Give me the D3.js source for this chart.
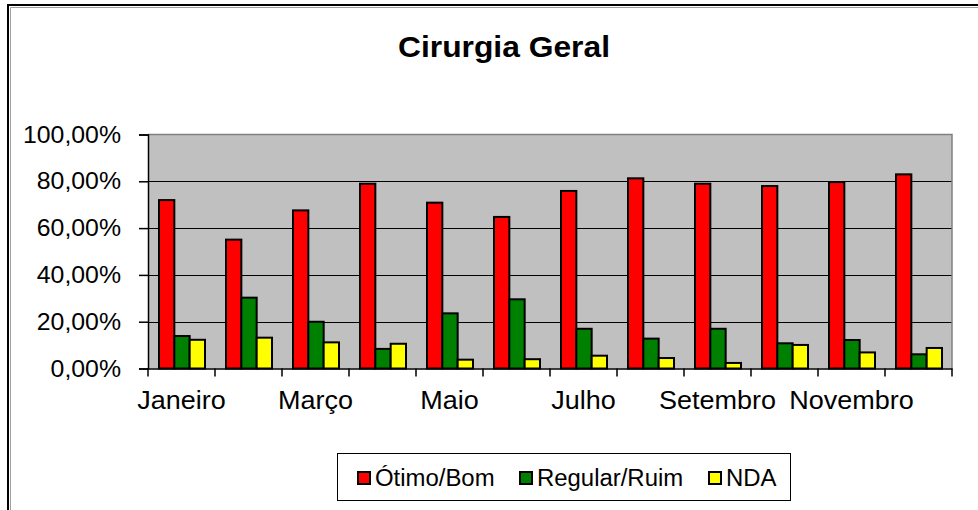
<!DOCTYPE html>
<html>
<head>
<meta charset="utf-8">
<script src="https://cdn.jsdelivr.net/npm/d3@7"></script>
<style>
  html, body { margin: 0; padding: 0; background: #fff; }
  svg { display: block; font-family: "Liberation Sans", Arial, sans-serif; }
</style>
</head>
<body>
<svg id="chart" width="978" height="510"></svg>
<script>
// data (percent)
var months = ["Janeiro", "Fevereiro", "Março", "Abril", "Maio", "Junho",
  "Julho", "Agosto", "Setembro", "Outubro", "Novembro", "Dezembro"];
var seriesNames = ["Ótimo/Bom", "Regular/Ruim", "NDA"];
var otimoBom = [72.4, 55.5, 68.0, 79.4, 71.3, 65.2, 76.3, 81.7, 79.4, 78.4, 80.1, 83.4];
var regularRuim = [14.3, 30.7, 20.4, 8.8, 24.0, 30.0, 17.4, 13.2, 17.4, 11.2, 12.6, 6.5];
var nda = [12.7, 13.6, 11.6, 11.0, 4.2, 4.4, 5.9, 4.9, 2.8, 10.5, 7.3, 9.2];
var yTicks = [0, 20, 40, 60, 80, 100];
var colors = ["#FF0000", "#008000", "#FFFF00"];

var values = [otimoBom, regularRuim, nda];

var svg = d3.select("#chart");

// outer chart border (clipped at right/bottom like the original)
svg.append("rect")
  .attr("x", 8).attr("y", 5)
  .attr("width", 1000).attr("height", 600)
  .attr("fill", "#fff")
  .attr("stroke", "#000").attr("stroke-width", 2);
svg.append("path")
  .attr("d", "M10.5,600V7.5H1000")
  .attr("fill", "none").attr("stroke", "#a0a0a0").attr("stroke-width", 1);

// title
svg.append("text")
  .attr("transform", "translate(504,57) scale(1.06,1)")
  .attr("text-anchor", "middle")
  .attr("font-size", 30)
  .attr("font-weight", "bold")
  .text("Cirurgia Geral");

var plot = {left: 148, right: 952, top: 134.5, bottom: 368.5};

var x = d3.scaleBand().domain(months).range([plot.left, plot.right]).padding(0);
var xs = d3.scaleBand().domain(seriesNames).range([10, 56]).padding(0);
var y = d3.scaleLinear().domain([0, 100]).range([plot.bottom, plot.top]);

// plot background
svg.append("rect")
  .attr("x", plot.left).attr("y", plot.top)
  .attr("width", plot.right - plot.left).attr("height", plot.bottom - plot.top)
  .attr("fill", "#C0C0C0");

// grid lines
svg.append("g").selectAll("line")
  .data(yTicks.filter(function(d){ return d > 0 && d < 100; }))
  .enter().append("line")
  .attr("x1", plot.left).attr("x2", plot.right)
  .attr("y1", function(d){ return Math.round(y(d)) + 0.5; })
  .attr("y2", function(d){ return Math.round(y(d)) + 0.5; })
  .attr("stroke", "#000").attr("stroke-width", 1);

// plot border top/right in grey
svg.append("path")
  .attr("d", "M" + plot.left + "," + plot.top + "H" + plot.right + "V" + plot.bottom)
  .attr("fill", "none").attr("stroke", "#808080").attr("stroke-width", 1.5);

// bars
var groups = svg.append("g").selectAll("g")
  .data(months)
  .enter().append("g")
  .attr("transform", function(d){ return "translate(" + x(d) + ",0)"; });

groups.selectAll("rect")
  .data(function(d, i){
    return seriesNames.map(function(s, j){ return {s: s, j: j, v: values[j][i]}; });
  })
  .enter().append("rect")
  .attr("x", function(d){ return xs(d.s) + 1; })
  .attr("width", xs.bandwidth())
  .attr("y", function(d){ return y(d.v) + 1; })
  .attr("height", function(d){ return y(0) - y(d.v) - 1; })
  .attr("fill", function(d){ return colors[d.j]; })
  .attr("stroke", "#000").attr("stroke-width", 2);

// y axis
var yAxis = svg.append("g")
  .attr("transform", "translate(" + plot.left + ",0)")
  .call(d3.axisLeft(y).tickValues(yTicks).tickSize(9).tickFormat(""));
yAxis.select(".domain").attr("stroke", "#000").attr("stroke-width", 1.5);
yAxis.selectAll(".tick line").attr("stroke", "#000").attr("stroke-width", 1.5);

svg.append("g").selectAll("text")
  .data(yTicks)
  .enter().append("text")
  .attr("transform", function(d){ return "translate(121," + (y(d) + 8) + ") scale(1.08,1)"; })
  .attr("text-anchor", "end")
  .attr("font-size", 23)
  .attr("fill", "#000")
  .text(function(d){ return d.toFixed(2).replace(".", ",") + "%"; });

// x axis
var xAxis = svg.append("g")
  .attr("transform", "translate(0," + plot.bottom + ")")
  .call(d3.axisBottom(x).tickSize(0).tickFormat(""));
xAxis.select(".domain").attr("stroke", "#000").attr("stroke-width", 1.5);
xAxis.selectAll(".tick").remove();

var boundaries = months.map(function(m){ return x(m); }).concat([plot.right]);
svg.append("g").selectAll("line")
  .data(boundaries)
  .enter().append("line")
  .attr("x1", function(d){ return d; }).attr("x2", function(d){ return d; })
  .attr("y1", plot.bottom).attr("y2", plot.bottom + 8)
  .attr("stroke", "#000").attr("stroke-width", 1.5);

svg.append("g").selectAll("text")
  .data(months.filter(function(d, i){ return i % 2 === 0; }))
  .enter().append("text")
  .attr("transform", function(d){ return "translate(" + (x(d) + x.bandwidth() / 2) + ",409) scale(1.08,1)"; })
  .attr("text-anchor", "middle")
  .attr("font-size", 25)
  .text(function(d){ return d; });

// legend
var legend = svg.append("g");
legend.append("rect")
  .attr("x", 337.5).attr("y", 453.5)
  .attr("width", 453).attr("height", 47)
  .attr("fill", "#fff").attr("stroke", "#000").attr("stroke-width", 1);

var legendX = [357, 519, 708];
var items = legend.selectAll("g.item")
  .data(seriesNames)
  .enter().append("g")
  .attr("class", "item")
  .attr("transform", function(d, i){ return "translate(" + legendX[i] + ",471)"; });
items.append("rect")
  .attr("x", 1).attr("y", 1)
  .attr("width", 12).attr("height", 12)
  .attr("fill", function(d, i){ return colors[i]; })
  .attr("stroke", "#000").attr("stroke-width", 2);
items.append("text")
  .attr("transform", "translate(18,15) scale(1.04,1)")
  .attr("font-size", 23)
  .text(function(d){ return d; });
</script>
</body>
</html>
